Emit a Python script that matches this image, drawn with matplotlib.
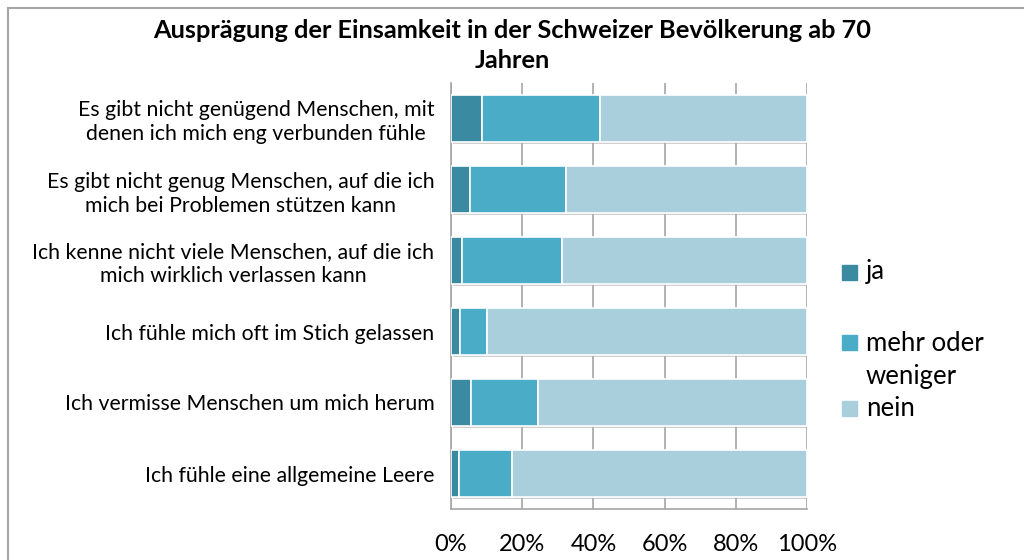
import numpy as np
import matplotlib
matplotlib.use("Agg")
import matplotlib.pyplot as plt
import matplotlib.patheffects as pe
from matplotlib.lines import Line2D

plt.rcParams['font.family'] = ['Lato', 'DejaVu Sans']

categories = [
    "Es gibt nicht genügend Menschen, mit\ndenen ich mich eng verbunden fühle",
    "Es gibt nicht genug Menschen, auf die ich\nmich bei Problemen stützen kann",
    "Ich kenne nicht viele Menschen, auf die ich\nmich wirklich verlassen kann",
    "Ich fühle mich oft im Stich gelassen",
    "Ich vermisse Menschen um mich herum",
    "Ich fühle eine allgemeine Leere",
]
ja = np.array([8.8, 5.2, 3.2, 2.6, 5.6, 2.2])
mehr = np.array([33.1, 27.0, 28.1, 7.5, 18.8, 15.0])
nein = 100 - ja - mehr
series = ["ja", "mehr oder\nweniger", "nein"]
colors = ["#3A8BA2", "#4AACC6", "#A9CEDC"]

fig = plt.figure(figsize=(10.24, 5.6), dpi=100)
ax = fig.add_axes([451/1024, (560-509)/560, 356/1024, (509-83)/560])

y = np.arange(len(categories))
shadow = [pe.SimplePatchShadow(offset=(1.5, -1.5), shadow_rgbFace='#B0B0B0', alpha=0.6), pe.Normal()]
left = np.zeros(len(categories))
for vals, col, name in zip([ja, mehr, nein], colors, series):
    bars = ax.barh(y, vals, left=left, height=0.65, color=col,
                   edgecolor='white', linewidth=1.2, zorder=3, label=name)
    for b in bars:
        b.set_path_effects(shadow)
    left = left + vals

ax.set_xlim(0, 100)
ax.set_ylim(len(categories) - 0.5, -0.5)
ax.set_xticks([0, 20, 40, 60, 80, 100])
ax.set_xticklabels(["0%", "20%", "40%", "60%", "80%", "100%"])
ax.set_yticks(y)
ax.set_yticklabels(categories, multialignment='center', linespacing=1.25)
ax.tick_params(axis='x', length=0, pad=18, labelsize=17)
ax.tick_params(axis='y', length=0, pad=12, labelsize=15.3)
ax.grid(axis='x', color='#A6A6A6', linewidth=1.2, zorder=0)
for s in ['top', 'right']:
    ax.spines[s].set_visible(False)
for s in ['left', 'bottom']:
    ax.spines[s].set_color('#A6A6A6')
    ax.spines[s].set_linewidth(1.2)

fig.text(0.5, 1 - 31/560, "Ausprägung der Einsamkeit in der Schweizer Bevölkerung ab 70",
         ha='center', va='center', fontsize=18.3, fontweight='bold')
fig.text(0.5, 1 - 60/560, "Jahren", ha='center', va='center', fontsize=18.3, fontweight='bold')

# legend drawn manually at fixed positions
leg_y = [272, 342, 408]
leg_text_y = [272, 360, 408]
for col, name, yy, ty in zip(colors, series, leg_y, leg_text_y):
    fig.patches.append(plt.Rectangle((842/1024, 1 - (yy + 7.5)/560), 15/1024, 15/560,
                                     transform=fig.transFigure, color=col))
    fig.text(866/1024, 1 - ty/560, name, ha='left', va='center', fontsize=18.5,
             linespacing=1.4)

# chart border (top and left visible)
fig.add_artist(Line2D([8/1024, 1.0], [1 - 8/560, 1 - 8/560], transform=fig.transFigure,
                      color='#A6A6A6', linewidth=1.5))
fig.add_artist(Line2D([8/1024, 8/1024], [0, 1 - 8/560], transform=fig.transFigure,
                      color='#A6A6A6', linewidth=1.5))

fig.savefig("out.png", dpi=100)
